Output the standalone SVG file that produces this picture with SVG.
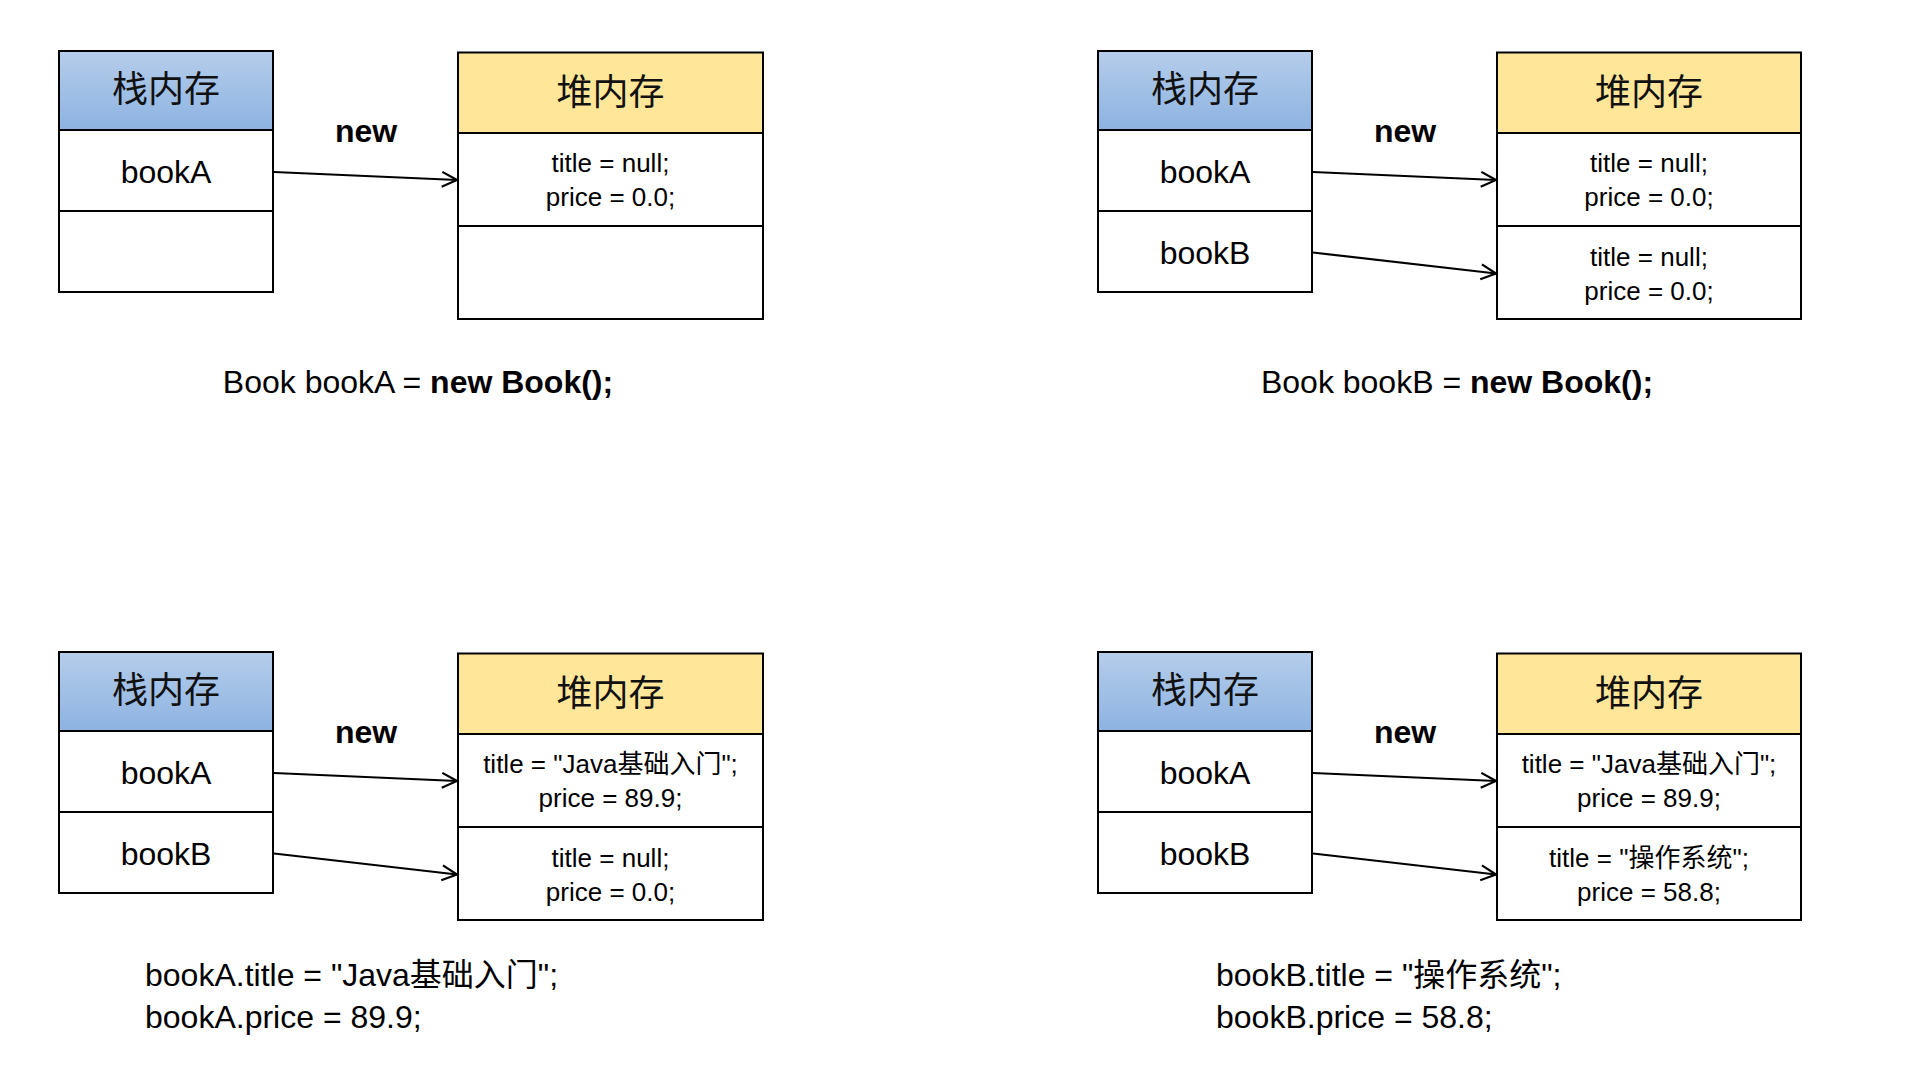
<svg xmlns="http://www.w3.org/2000/svg" width="1920" height="1080" viewBox="0 0 1920 1080">
<style>
.box{fill:#ffffff;stroke:#000;stroke-width:2}
.sh{fill:url(#blue);stroke:#000;stroke-width:2}
.hh{fill:#ffe699;stroke:#000;stroke-width:2}
.cj{font-family:"Noto Sans CJK SC","Liberation Sans",sans-serif;font-size:36px;fill:#111;text-anchor:middle}
.var{font-family:"Liberation Sans","Noto Sans CJK SC",sans-serif;font-size:32px;fill:#000;text-anchor:middle}
.fld{font-family:"Liberation Sans","Noto Sans CJK SC",sans-serif;font-size:26px;fill:#000;text-anchor:middle}
.new{font-family:"Liberation Sans",sans-serif;font-size:32px;font-weight:bold;fill:#000;text-anchor:middle}
.cap{font-family:"Liberation Sans","Noto Sans CJK SC",sans-serif;font-size:32px;fill:#000}
.arr{stroke:#000;stroke-width:2.2;fill:none;marker-end:url(#head)}
</style>
<defs>
<linearGradient id="blue" x1="0" y1="0" x2="0" y2="1">
<stop offset="0" stop-color="#b5cdea"/>
<stop offset="1" stop-color="#8db3e2"/>
</linearGradient>
<marker id="head" viewBox="-17 -10 20 20" refX="0" refY="0" markerWidth="20" markerHeight="20" markerUnits="userSpaceOnUse" orient="auto">
<path d="M-15,-7.5 L0,0 L-15,7.5" fill="none" stroke="#000" stroke-width="2.2" stroke-linejoin="miter"/>
</marker>
</defs>
<rect width="1920" height="1080" fill="#ffffff"/>

<!-- Panel 1 -->
<g id="stack1">
<rect class="sh" x="59" y="51" width="214" height="79"/>
<rect class="box" x="59" y="130" width="214" height="81"/>
<rect class="box" x="59" y="211" width="214" height="81"/>
<text class="cj" x="166" y="102">栈内存</text>
<text class="var" x="166" y="183">bookA</text>
</g>
<g id="heap1">
<rect class="hh" x="458" y="52.5" width="305" height="80.5"/>
<rect class="box" x="458" y="133" width="305" height="93"/>
<rect class="box" x="458" y="226" width="305" height="93"/>
<text class="cj" x="610.5" y="105">堆内存</text>
<text class="fld" x="610.5" y="172">title = null;</text>
<text class="fld" x="610.5" y="206">price = 0.0;</text>
</g>
<text class="new" x="366" y="142">new</text>
<text class="cap" x="418" y="393" text-anchor="middle">Book bookA = <tspan font-weight="bold">new Book();</tspan></text>

<!-- Panel 2 -->
<g id="stack2">
<rect class="sh" x="1098" y="51" width="214" height="79"/>
<rect class="box" x="1098" y="130" width="214" height="81"/>
<rect class="box" x="1098" y="211" width="214" height="81"/>
<text class="cj" x="1205" y="102">栈内存</text>
<text class="var" x="1205" y="183">bookA</text>
<text class="var" x="1205" y="264">bookB</text>
</g>
<g id="heap2">
<rect class="hh" x="1497" y="52.5" width="304" height="80.5"/>
<rect class="box" x="1497" y="133" width="304" height="93"/>
<rect class="box" x="1497" y="226" width="304" height="93"/>
<text class="cj" x="1649" y="105">堆内存</text>
<text class="fld" x="1649" y="172">title = null;</text>
<text class="fld" x="1649" y="206">price = 0.0;</text>
<text class="fld" x="1649" y="266">title = null;</text>
<text class="fld" x="1649" y="300">price = 0.0;</text>
</g>
<text class="new" x="1405" y="142">new</text>
<text class="cap" x="1457" y="393" text-anchor="middle">Book bookB = <tspan font-weight="bold">new Book();</tspan></text>

<!-- Panel 3 -->
<g id="stack3">
<rect class="sh" x="59" y="652" width="214" height="79"/>
<rect class="box" x="59" y="731" width="214" height="81"/>
<rect class="box" x="59" y="812" width="214" height="81"/>
<text class="cj" x="166" y="703">栈内存</text>
<text class="var" x="166" y="784">bookA</text>
<text class="var" x="166" y="865">bookB</text>
</g>
<g id="heap3">
<rect class="hh" x="458" y="653.5" width="305" height="80.5"/>
<rect class="box" x="458" y="734" width="305" height="93"/>
<rect class="box" x="458" y="827" width="305" height="93"/>
<text class="cj" x="610.5" y="706">堆内存</text>
<text class="fld" x="610.5" y="773">title = "Java基础入门";</text>
<text class="fld" x="610.5" y="807">price = 89.9;</text>
<text class="fld" x="610.5" y="867">title = null;</text>
<text class="fld" x="610.5" y="901">price = 0.0;</text>
</g>
<text class="new" x="366" y="743">new</text>
<text class="cap" x="145" y="986">bookA.title = "Java基础入门";</text>
<text class="cap" x="145" y="1028">bookA.price = 89.9;</text>

<!-- Panel 4 -->
<g id="stack4">
<rect class="sh" x="1098" y="652" width="214" height="79"/>
<rect class="box" x="1098" y="731" width="214" height="81"/>
<rect class="box" x="1098" y="812" width="214" height="81"/>
<text class="cj" x="1205" y="703">栈内存</text>
<text class="var" x="1205" y="784">bookA</text>
<text class="var" x="1205" y="865">bookB</text>
</g>
<g id="heap4">
<rect class="hh" x="1497" y="653.5" width="304" height="80.5"/>
<rect class="box" x="1497" y="734" width="304" height="93"/>
<rect class="box" x="1497" y="827" width="304" height="93"/>
<text class="cj" x="1649" y="706">堆内存</text>
<text class="fld" x="1649" y="773">title = "Java基础入门";</text>
<text class="fld" x="1649" y="807">price = 89.9;</text>
<text class="fld" x="1649" y="867">title = "操作系统";</text>
<text class="fld" x="1649" y="901">price = 58.8;</text>
</g>
<text class="new" x="1405" y="743">new</text>
<text class="cap" x="1216" y="986">bookB.title = "操作系统";</text>
<text class="cap" x="1216" y="1028">bookB.price = 58.8;</text>

<g id="connectors">
<line class="arr" x1="274" y1="172" x2="457" y2="180"/>
<line class="arr" x1="1313" y1="172" x2="1496" y2="180"/>
<line class="arr" x1="1313" y1="252.5" x2="1496" y2="273.5"/>
<line class="arr" x1="274" y1="773" x2="457" y2="781"/>
<line class="arr" x1="274" y1="853.5" x2="457" y2="874.5"/>
<line class="arr" x1="1313" y1="773" x2="1496" y2="781"/>
<line class="arr" x1="1313" y1="853.5" x2="1496" y2="874.5"/>
</g>
</svg>
